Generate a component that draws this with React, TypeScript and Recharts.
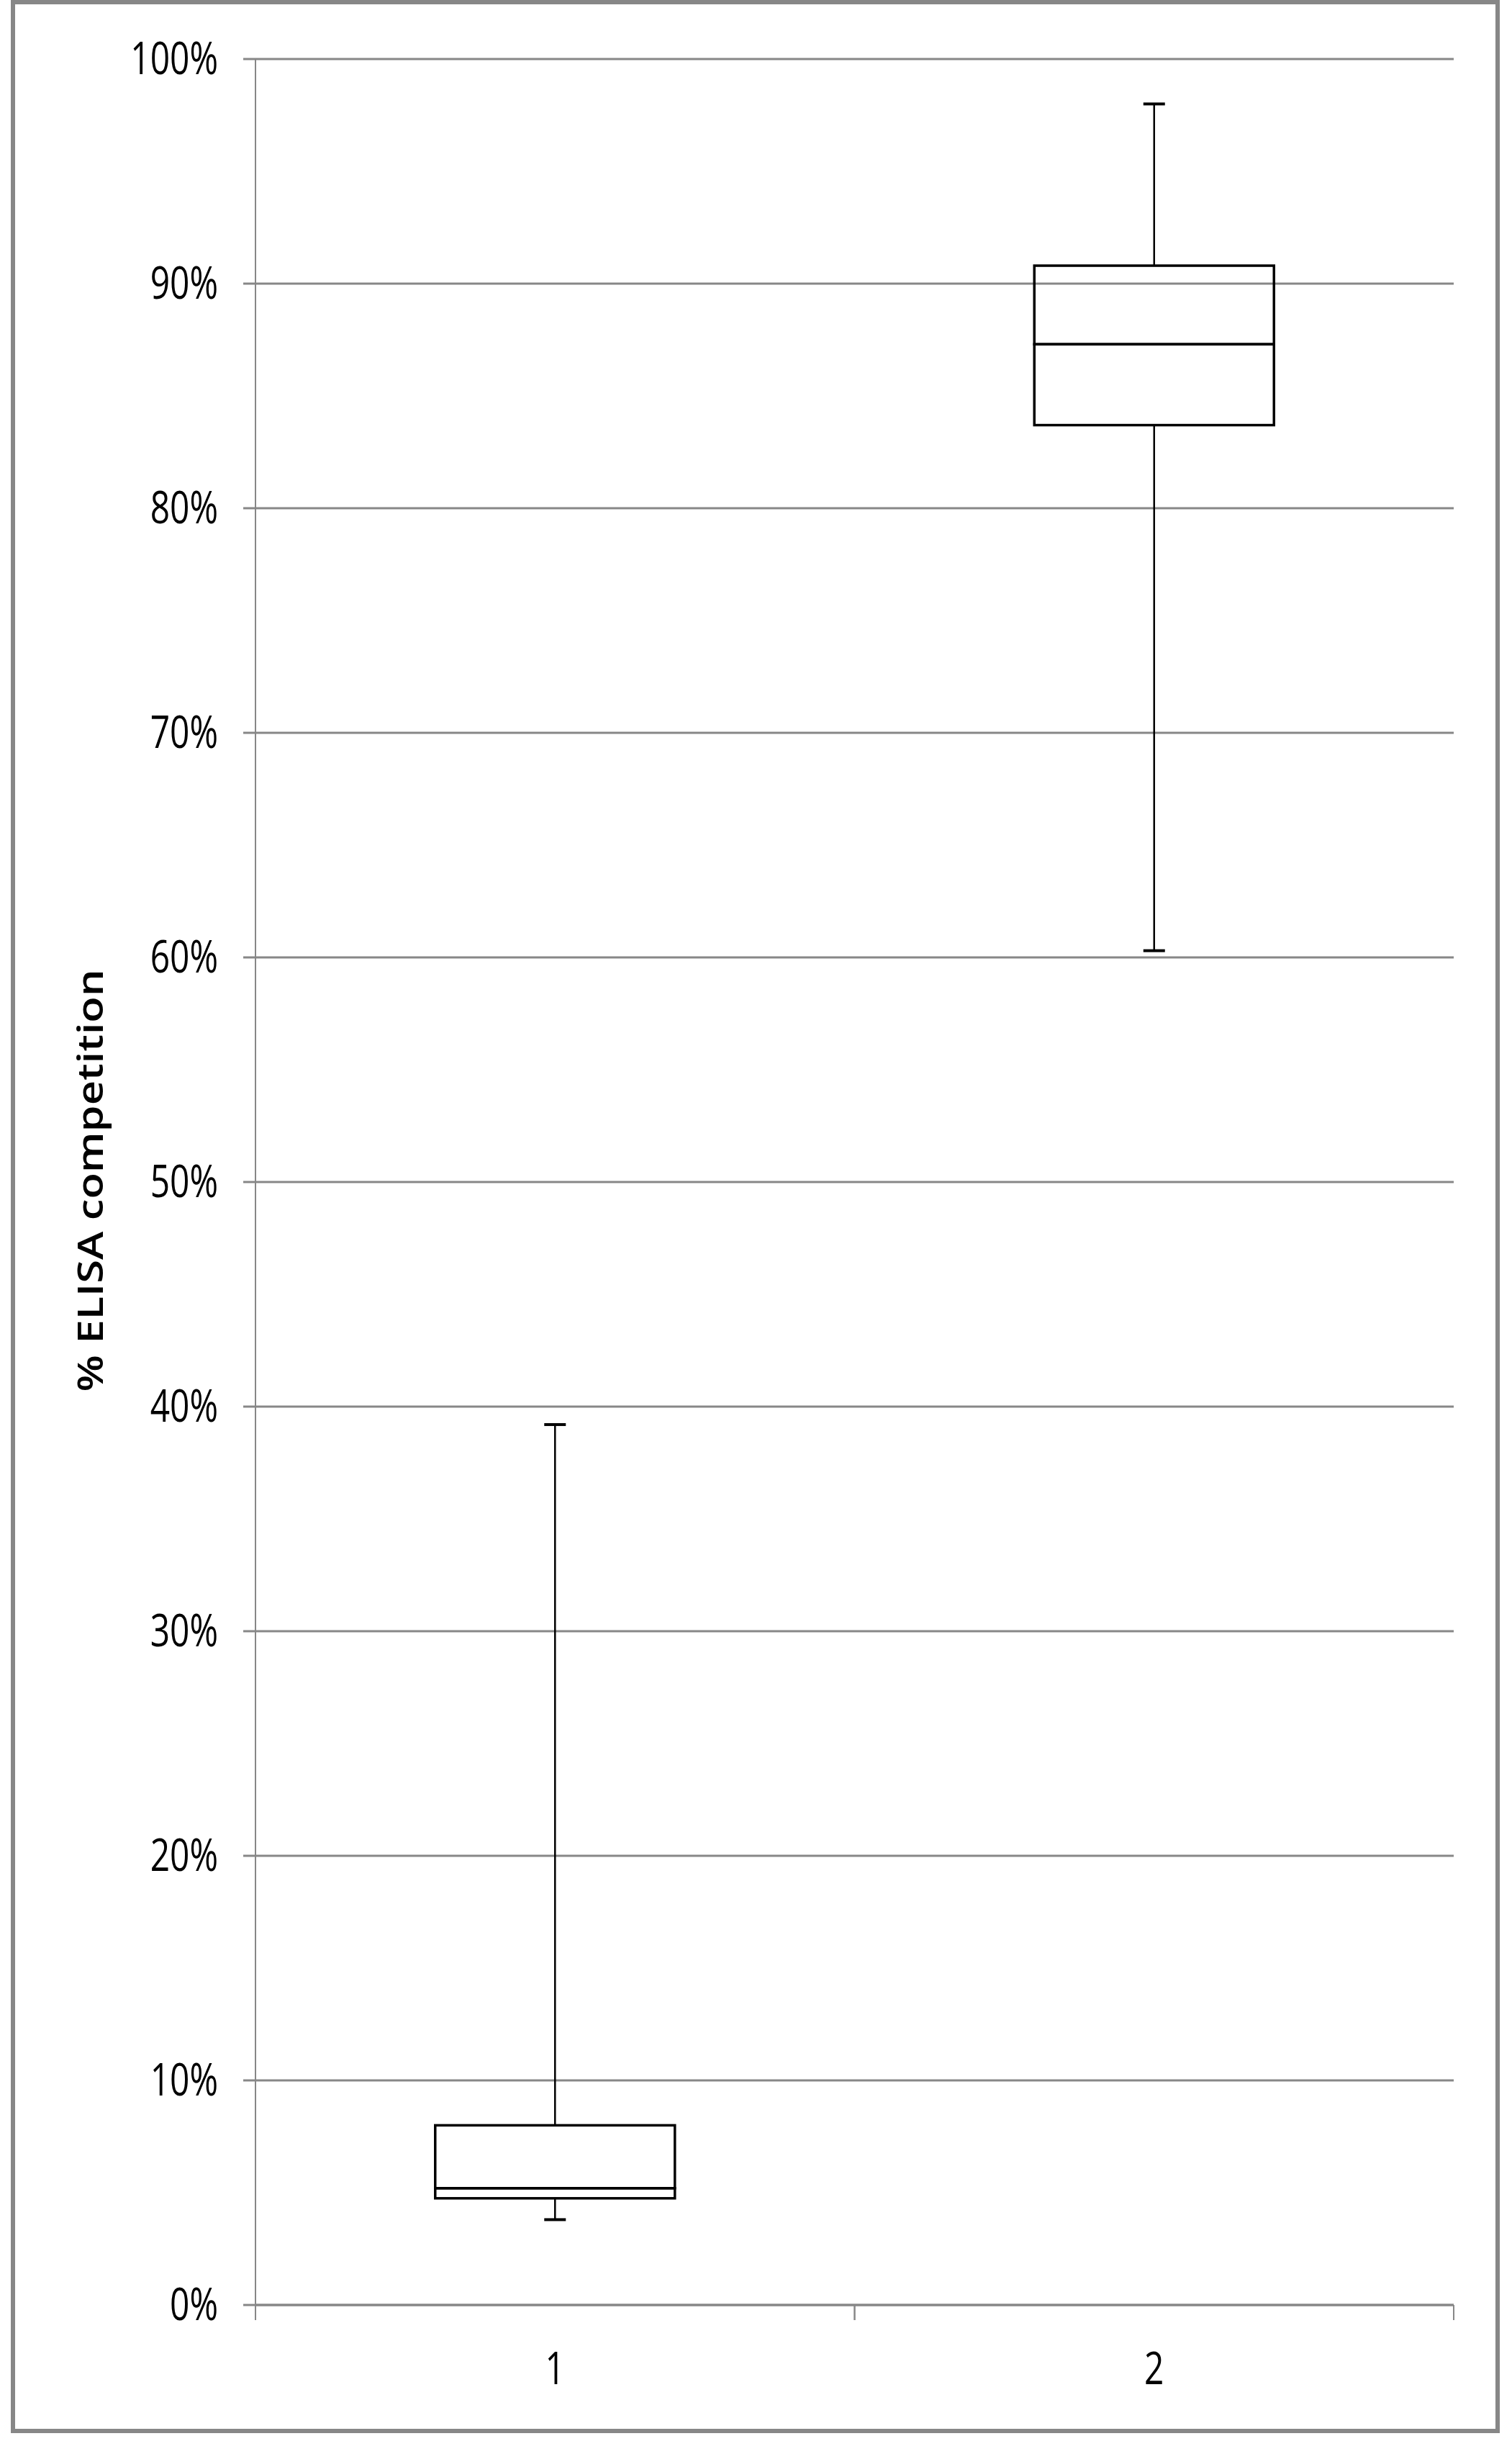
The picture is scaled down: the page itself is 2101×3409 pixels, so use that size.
import { ComposedChart, Bar, XAxis, YAxis, CartesianGrid } from "recharts";

const categories = ["1", "2"];
const minValues = [3.8, 60.3];
const q1Values = [4.75, 83.7];
const medianValues = [5.2, 87.3];
const q3Values = [8.0, 90.8];
const maxValues = [39.2, 98.0];
const yTicks = [0, 10, 20, 30, 40, 50, 60, 70, 80, 90, 100];

const data = categories.map((name, i) => ({
  name,
  base: minValues[i],
  lowWhisker: q1Values[i] - minValues[i],
  lowBox: medianValues[i] - q1Values[i],
  highBox: q3Values[i] - medianValues[i],
  highWhisker: maxValues[i] - q3Values[i],
}));

const GRID = "#878787";
const CAP = 30;

const Empty = () => <g />;

const BoxPart = (props: any) => {
  const { x, y, width, height } = props;
  return (
    <rect x={x} y={y} width={width} height={height} fill="none" stroke="#000" strokeWidth={3.5} />
  );
};

const LowWhisker = (props: any) => {
  const { x, y, width, height } = props;
  const cx = x + width / 2;
  return (
    <g>
      <line x1={cx} x2={cx} y1={y} y2={y + height} stroke="#000" strokeWidth={2.5} />
      <line x1={cx - CAP / 2} x2={cx + CAP / 2} y1={y + height} y2={y + height} stroke="#000" strokeWidth={4} />
    </g>
  );
};

const HighWhisker = (props: any) => {
  const { x, y, width, height } = props;
  const cx = x + width / 2;
  return (
    <g>
      <line x1={cx} x2={cx} y1={y} y2={y + height} stroke="#000" strokeWidth={2.5} />
      <line x1={cx - CAP / 2} x2={cx + CAP / 2} y1={y} y2={y} stroke="#000" strokeWidth={4} />
    </g>
  );
};

const YTick = (props: any) => {
  const { x, y, payload } = props;
  return (
    <g transform={`translate(${x},${y})`}>
      <text
        transform="scale(0.76,1)"
        textAnchor="end"
        dy="0.33em"
        fontFamily="'Open Sans', sans-serif"
        fontSize={63}
        fill="#000"
      >
        {`${payload.value}%`}
      </text>
    </g>
  );
};

const XTick = (props: any) => {
  const { x, y, payload } = props;
  const half = payload.offset || 416;
  return (
    <g>
      <line x1={x - half} x2={x - half} y1={y} y2={y + 21} stroke={GRID} strokeWidth={2} />
      <line x1={x + half} x2={x + half} y1={y} y2={y + 21} stroke={GRID} strokeWidth={2} />
      <g transform={`translate(${x},${y + 110})`}>
        <text
          transform="scale(0.76,1)"
          textAnchor="middle"
          fontFamily="'Open Sans', sans-serif"
          fontSize={63}
          fill="#000"
        >
          {payload.value}
        </text>
      </g>
    </g>
  );
};

const YLabel = (props: any) => {
  const { viewBox } = props;
  const lx = viewBox.x + 143;
  const ly = viewBox.y + viewBox.height / 2 - 2;
  return (
    <text
      x={lx}
      y={ly}
      transform={`rotate(-90 ${lx} ${ly})`}
      textAnchor="middle"
      fontFamily="'Open Sans', sans-serif"
      fontWeight={600}
      fontSize={49}
      textLength={587}
      lengthAdjust="spacingAndGlyphs"
      fill="#000"
    >
      % ELISA competition
    </text>
  );
};

export default function App() {
  return (
    <div style={{ position: "absolute", left: 0, top: 0, width: 2101, height: 3409, background: "#fff" }}>
      <div
        style={{
          position: "absolute",
          left: 15,
          top: 0,
          width: 2069,
          height: 3380,
          border: `6px solid ${GRID}`,
          boxSizing: "border-box",
        }}
      />
      <div style={{ position: "absolute", left: 0, top: 0 }}>
        <ComposedChart
          width={2101}
          height={3409}
          data={data}
          margin={{ top: 82, right: 81, left: 0, bottom: 87 }}
          barCategoryGap="30%"
        >
          <CartesianGrid vertical={false} stroke={GRID} strokeWidth={3} />
          <XAxis
            dataKey="name"
            height={120}
            axisLine={{ stroke: GRID, strokeWidth: 3 }}
            tickLine={false}
            tickSize={0}
            tickMargin={0}
            tick={<XTick />}
          />
          <YAxis
            width={355}
            domain={[0, 100]}
            ticks={yTicks}
            interval={0}
            axisLine={{ stroke: GRID, strokeWidth: 2 }}
            tickLine={{ stroke: GRID, strokeWidth: 3 }}
            tickSize={17}
            tickMargin={35}
            tick={<YTick />}
            label={<YLabel />}
          />
          <Bar dataKey="base" stackId="box" shape={<Empty />} isAnimationActive={false} />
          <Bar dataKey="lowWhisker" stackId="box" shape={<LowWhisker />} isAnimationActive={false} />
          <Bar dataKey="lowBox" stackId="box" shape={<BoxPart />} isAnimationActive={false} />
          <Bar dataKey="highBox" stackId="box" shape={<BoxPart />} isAnimationActive={false} />
          <Bar dataKey="highWhisker" stackId="box" shape={<HighWhisker />} isAnimationActive={false} />
        </ComposedChart>
      </div>
    </div>
  );
}
